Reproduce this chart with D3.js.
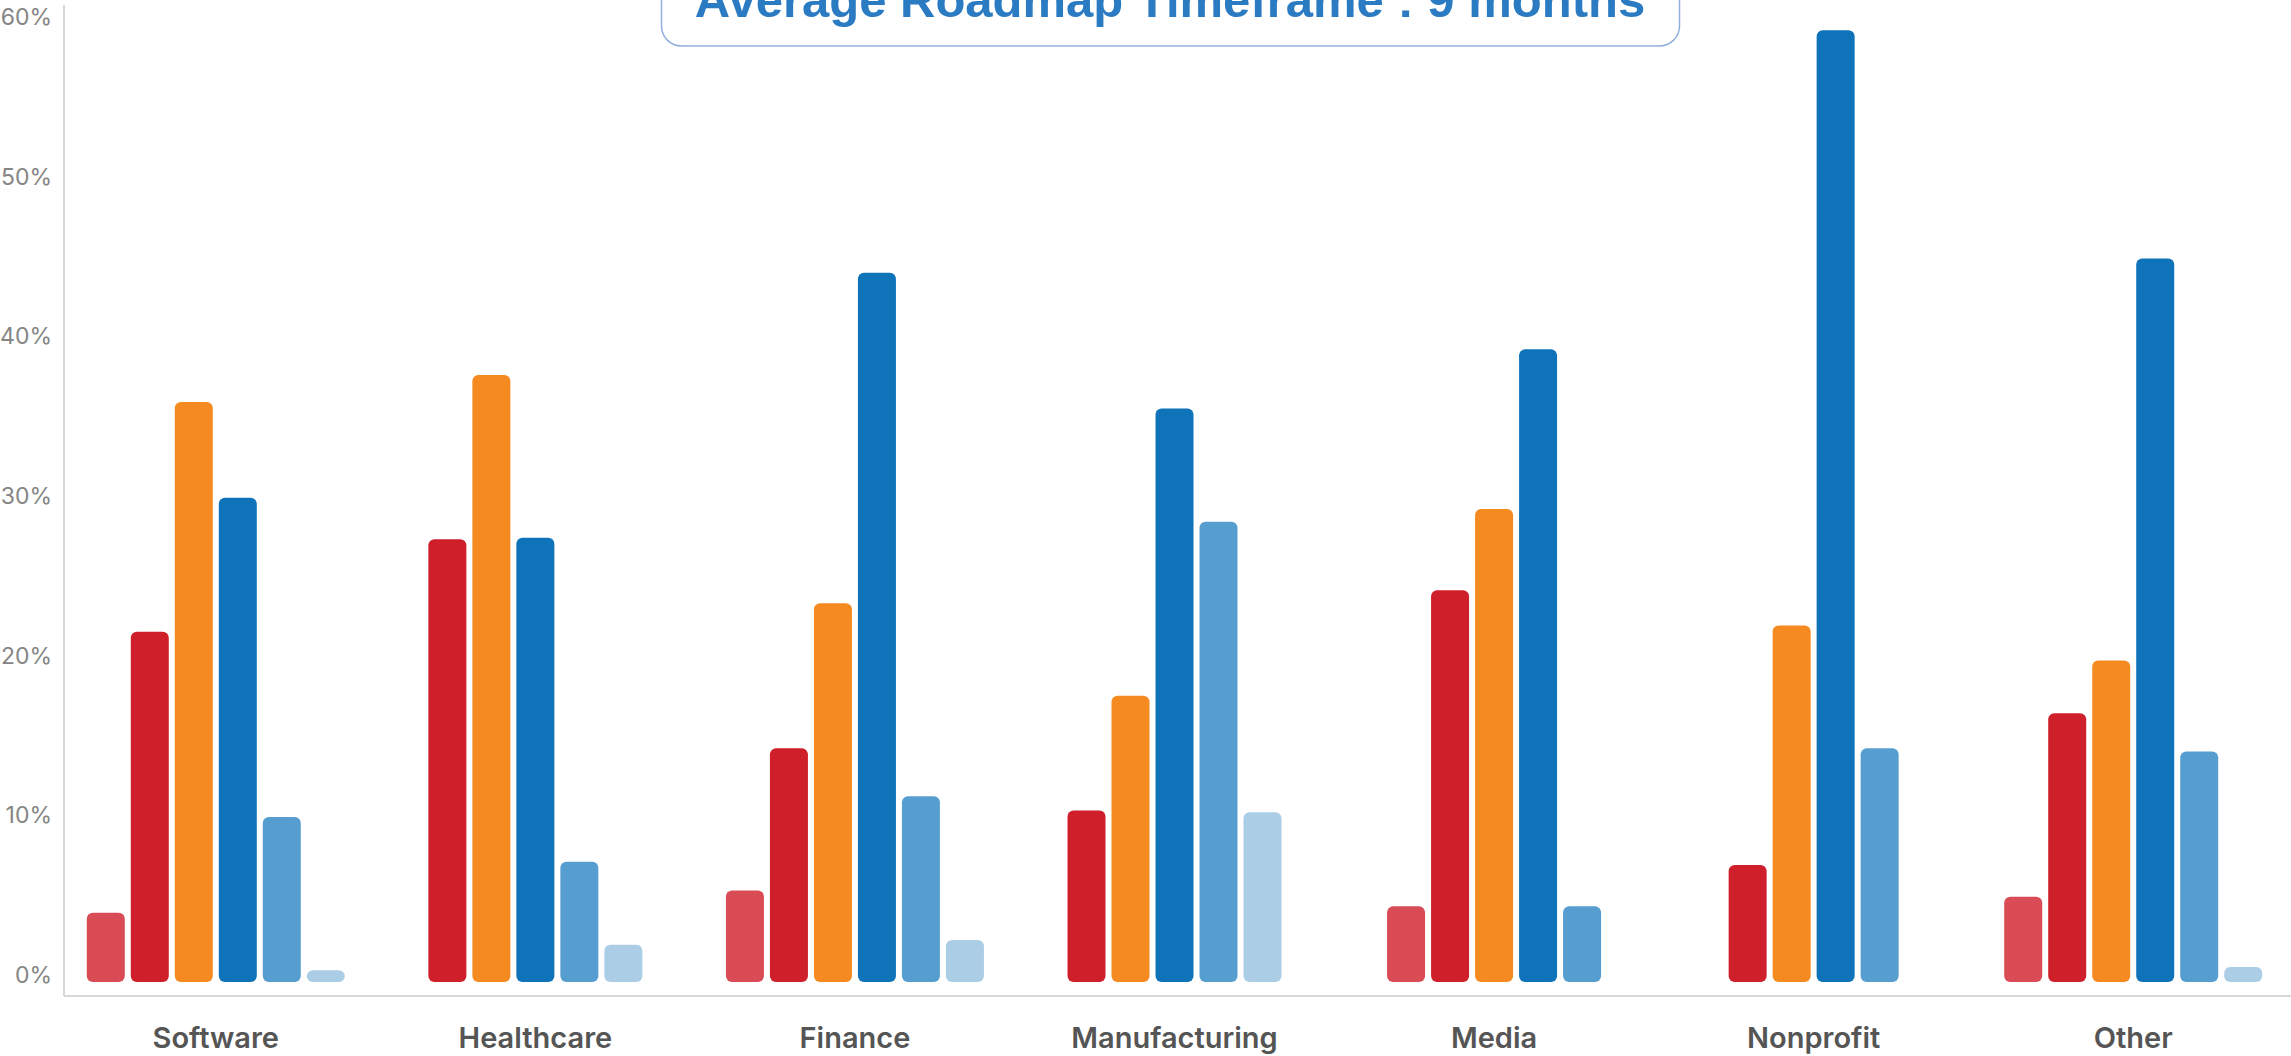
<!DOCTYPE html>
<html>
<head>
<meta charset="utf-8">
<script src="https://cdn.jsdelivr.net/npm/d3@7"></script>
<style>
  html, body { margin: 0; padding: 0; background: #fff; }
  svg { display: block; }
</style>
</head>
<body>
<div id="chart"></div>
<script>
// categories along the x axis
var categories = ["Software", "Healthcare", "Finance", "Manufacturing", "Media", "Nonprofit", "Other"];

// one array per bar colour, values in percent (null = no bar)
var lightRed  = [3.9, null, 5.3, null, 4.3, null, 4.9];
var red       = [21.5, 27.3, 14.2, 10.3, 24.1, 6.9, 16.4];
var orange    = [35.9, 37.6, 23.3, 17.5, 29.2, 21.9, 19.7];
var blue      = [29.9, 27.4, 44.0, 35.5, 39.2, 59.2, 44.9];
var midBlue   = [9.9, 7.1, 11.2, 28.4, 4.3, 14.2, 14.0];
var lightBlue = [0.3, 1.9, 2.2, 10.2, null, null, 0.5];

var yTicks = [0, 10, 20, 30, 40, 50, 60];
var title = "Average Roadmap Timeframe : 9 months";

var seriesList = [lightRed, red, orange, blue, midBlue, lightBlue];
var colors = ["#d94c55", "#cf1f2b", "#f58a21", "#0f73ba", "#579ed0", "#abcde6"];

var W = 2291, H = 1056;
var axisX = 64, axisY = 996;

var svg = d3.select("#chart")
  .append("svg")
  .attr("width", W)
  .attr("height", H);

//scales
var x = d3.scaleBand()
  .domain(categories)
  .range([56, 2293])
  .padding(0);

var y = d3.scaleLinear()
  .domain([0, 60])
  .range([975, 17.4]);

var barW = 38, barStep = 44, barExtra = 7;

//axis lines
svg.append("line")
  .attr("x1", axisX).attr("x2", axisX)
  .attr("y1", 5).attr("y2", axisY)
  .attr("stroke", "#cacaca").attr("stroke-width", 1.5);

svg.append("line")
  .attr("x1", axisX).attr("x2", W)
  .attr("y1", axisY).attr("y2", axisY)
  .attr("stroke", "#cacaca").attr("stroke-width", 1.5);

//y axis ticks
var yAxis = d3.axisLeft(y)
  .tickValues(yTicks)
  .tickSize(0)
  .tickPadding(12)
  .tickFormat(function(d) { return d + "%"; });

var gy = svg.append("g")
  .attr("transform", "translate(" + axisX + ",0)")
  .call(yAxis);
gy.select(".domain").remove();
gy.selectAll("text")
  .attr("fill", "#858585")
  .style("font-family", "Inter, 'Noto Sans', sans-serif")
  .style("font-size", "23px")
  .style("font-weight", 400);

//x axis labels
var xAxis = d3.axisBottom(x).tickSize(0).tickPadding(0);
var gx = svg.append("g")
  .attr("transform", "translate(0," + 1048 + ")")
  .call(xAxis);
gx.select(".domain").remove();
gx.selectAll("text")
  .attr("dy", 0)
  .attr("fill", "#555555")
  .style("font-family", "Inter, 'Noto Sans', sans-serif")
  .style("font-size", "29px")
  .style("font-weight", 600);

//bars: present bars in each group are centred on the category
var bars = [];
categories.forEach(function(cat, i) {
  var present = [];
  seriesList.forEach(function(s, k) {
    if (s[i] != null) present.push({cat: cat, value: s[i], color: colors[k]});
  });
  present.forEach(function(b, j) {
    b.offset = (j - (present.length - 1) / 2) * barStep;
    bars.push(b);
  });
});

svg.append("g")
  .selectAll("rect")
  .data(bars)
  .enter()
  .append("rect")
  .attr("x", function(d) { return x(d.cat) + x.bandwidth() / 2 + d.offset - barW / 2; })
  .attr("y", function(d) { return y(d.value); })
  .attr("width", barW)
  .attr("height", function(d) { return y(0) + barExtra - y(d.value); })
  .attr("rx", 6).attr("ry", 6)
  .attr("fill", function(d) { return d.color; });

//title box, cut off by the top edge as in the source
svg.append("rect")
  .attr("x", 661.5).attr("y", -40)
  .attr("width", 1018).attr("height", 86)
  .attr("rx", 20).attr("ry", 20)
  .attr("fill", "#fff")
  .attr("stroke", "#93afdd")
  .attr("stroke-width", 1.5);

svg.append("text")
  .attr("x", 1170).attr("y", 16.5)
  .attr("text-anchor", "middle")
  .attr("fill", "#2a7bc2")
  .style("font-family", "'Liberation Sans', Arial, sans-serif")
  .style("font-size", "49px")
  .style("font-weight", 700)
  .text(title);
</script>
</body>
</html>
